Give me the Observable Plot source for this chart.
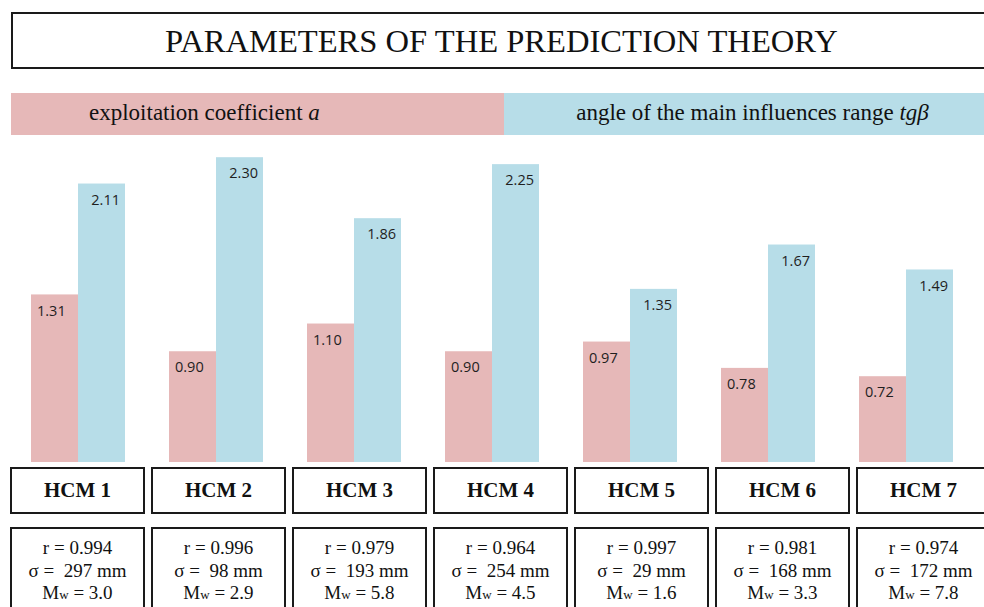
<!DOCTYPE html>
<html>
<head>
<meta charset="utf-8">
<script src="https://cdn.jsdelivr.net/npm/d3@7"></script>
<script src="https://cdn.jsdelivr.net/npm/@observablehq/plot@0.6"></script>
<style>
  html, body { margin: 0; padding: 0; background: #fff; }
  #page { position: relative; width: 984px; height: 607px; overflow: hidden; font-family: "Liberation Serif", "Times New Roman", serif; color: #111; }
  #title { position: absolute; left: 11px; top: 12px; width: 990px; height: 57px; box-sizing: border-box; border: 2px solid #1a1a1a; }
  #title span { position: absolute; left: 152px; top: 50%; transform: translateY(-50%); font-size: 32.6px; white-space: nowrap; }
  #legend { position: absolute; left: 11px; top: 93px; width: 990px; height: 42px; display: flex; }
  #legend .lg { height: 100%; position: relative; font-size: 23px; white-space: nowrap; font-family: "Liberation Serif", "Times New Roman", serif; }
  #legend .lg span { position: absolute; top: 50%; transform: translateY(-52%); }
  #chart { position: absolute; left: 0; top: 140px; }
  .row { position: absolute; left: 10px; display: flex; gap: 6px; }
  .box { box-sizing: border-box; width: 135px; border: 2px solid #1a1a1a; display: flex; flex-direction: column; align-items: center; }
  #hcmRow { top: 467px; }
  #hcmRow .box { height: 47px; justify-content: center; font-weight: bold; font-size: 21px; }
  #statRow { top: 527px; }
  #statRow .box { height: 110px; padding-top: 8px; font-size: 19px; line-height: 22.5px; white-space: pre; }
  .sub { font-size: 13px; }
</style>
</head>
<body>
<div id="page">
  <div id="title"><span></span></div>
  <div id="legend"></div>
  <div id="chart"></div>
  <div class="row" id="hcmRow"></div>
  <div class="row" id="statRow"></div>
</div>
<script>
// ---- data ----
const titleText = "PARAMETERS OF THE PREDICTION THEORY";
const hcm = ["HCM 1", "HCM 2", "HCM 3", "HCM 4", "HCM 5", "HCM 6", "HCM 7"];
const seriesKeys = ["a", "tg"];
const seriesLabels = ["exploitation coefficient ", "angle of the main influences range "];
const seriesSymbols = ["a", "tgβ"];
const coefA = [1.31, 0.90, 1.10, 0.90, 0.97, 0.78, 0.72];
const tgBeta = [2.11, 2.30, 1.86, 2.25, 1.35, 1.67, 1.49];
const rVals = ["0.994", "0.996", "0.979", "0.964", "0.997", "0.981", "0.974"];
const sigmaMm = [297, 98, 193, 254, 29, 168, 172];
const mwVals = ["3.0", "2.9", "5.8", "4.5", "1.6", "3.3", "7.8"];

// ---- styling ----
const pink = "#e6b8b8";
const blue = "#b7dde8";
const yDomain = [0.101, 2.388];

// title
document.querySelector("#title span").textContent = titleText;

// legend band
const legend = document.getElementById("legend");
seriesKeys.forEach((k, i) => {
  const d = document.createElement("div");
  d.className = "lg";
  d.style.background = i === 0 ? pink : blue;
  d.style.width = i === 0 ? "493px" : "497px";
  const s = document.createElement("span");
  s.append(seriesLabels[i]);
  const it = document.createElement("i");
  it.textContent = seriesSymbols[i];
  s.append(it);
  if (i === 0) { s.style.left = "78px"; }
  else { s.style.left = "50%"; s.style.transform = "translate(-50%, -52%)"; }
  d.append(s);
  legend.append(d);
});

// rows for the bars
const rows = [];
hcm.forEach((h, i) => {
  rows.push({hcm: h, key: "a", value: coefA[i]});
  rows.push({hcm: h, key: "tg", value: tgBeta[i]});
});

const chart = Plot.plot({
  width: 984,
  height: 322,
  marginTop: 5,
  marginBottom: 0,
  marginLeft: 6,
  marginRight: 7,
  style: {fontFamily: "'Open Sans', sans-serif", background: "transparent", overflow: "hidden"},
  fx: {domain: hcm, padding: 0, axis: null},
  x: {domain: seriesKeys, paddingInner: 0, paddingOuter: 0.45, axis: null},
  y: {domain: yDomain, axis: null},
  color: {domain: seriesKeys, range: [pink, blue]},
  marks: [
    Plot.barY(rows, {fx: "hcm", x: "key", y: "value", fill: "key", inset: 0, clip: true}),
    Plot.text(rows.filter(d => d.key === "a"), {
      fx: "hcm", x: "key", y: "value", text: d => d.value.toFixed(2),
      textAnchor: "start", dx: -18, dy: 16, fontSize: 14.5, fill: "#1f1f1f"
    }),
    Plot.text(rows.filter(d => d.key === "tg"), {
      fx: "hcm", x: "key", y: "value", text: d => d.value.toFixed(2),
      textAnchor: "end", dx: 18, dy: 16, fontSize: 14.5, fill: "#1f1f1f"
    })
  ]
});
document.getElementById("chart").append(chart);

// HCM label boxes
const hcmRow = document.getElementById("hcmRow");
hcm.forEach(h => {
  const b = document.createElement("div");
  b.className = "box";
  b.textContent = h;
  hcmRow.append(b);
});

// statistics boxes
const statRow = document.getElementById("statRow");
hcm.forEach((h, i) => {
  const b = document.createElement("div");
  b.className = "box";
  const l1 = document.createElement("div");
  l1.textContent = "r = " + rVals[i];
  const l2 = document.createElement("div");
  l2.textContent = "σ =  " + sigmaMm[i] + " mm";
  const l3 = document.createElement("div");
  l3.innerHTML = "M<span class='sub'>w</span> = " + mwVals[i];
  b.append(l1, l2, l3);
  statRow.append(b);
});
</script>
</body>
</html>
